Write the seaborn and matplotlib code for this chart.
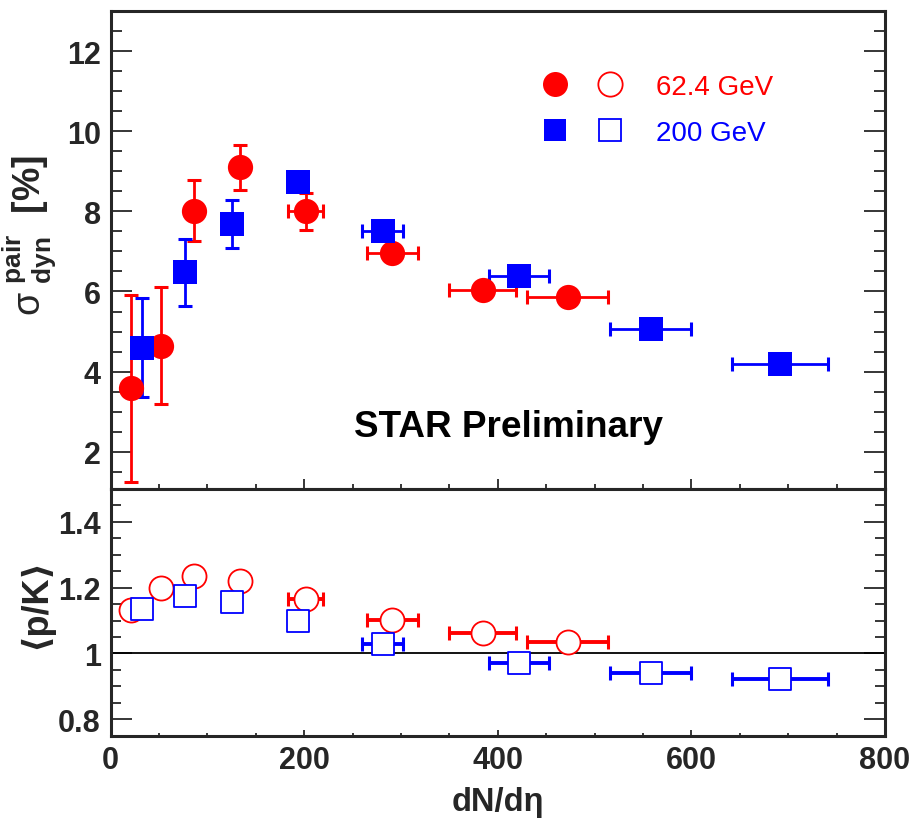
import numpy as np
import pandas as pd
import matplotlib
matplotlib.use("Agg")
import matplotlib.pyplot as plt
import seaborn as sns
from matplotlib.ticker import MultipleLocator, FuncFormatter
from matplotlib.legend_handler import HandlerTuple
from matplotlib.lines import Line2D

# ---------------- data ----------------
dndeta_62 = [20.5, 52, 86, 134, 201.5, 291, 384.5, 472]
dndeta_62_err = [0, 0, 0, 0, 18, 26, 34.5, 41.5]
sigma_62 = [3.58, 4.64, 8.02, 9.10, 8.00, 6.95, 6.03, 5.85]
sigma_62_err = [2.34, 1.46, 0.75, 0.56, 0.46, 0.2, 0.2, 0.2]
pk_62 = [1.131, 1.200, 1.236, 1.220, 1.167, 1.102, 1.061, 1.034]

dndeta_200 = [32.5, 77, 125, 194, 281, 421.5, 558, 691.5]
dndeta_200_err = [0, 0, 0, 0, 21, 31, 42, 50]
sigma_200 = [4.60, 6.48, 7.68, 8.73, 7.50, 6.39, 5.06, 4.18]
sigma_200_err = [1.23, 0.83, 0.60, 0.2, 0.2, 0.2, 0.2, 0.2]
pk_200 = [1.136, 1.175, 1.156, 1.099, 1.028, 0.972, 0.940, 0.921]

energies = ["62.4 GeV", "200 GeV"]
colors = {"62.4 GeV": "#ff0000", "200 GeV": "#0000ff"}

df62 = pd.DataFrame({"dNdeta": dndeta_62, "sigma": sigma_62, "pk": pk_62})
df200 = pd.DataFrame({"dNdeta": dndeta_200, "sigma": sigma_200, "pk": pk_200})

# ---------------- style ----------------
sns.set_theme(style="ticks")
plt.rcParams["font.family"] = ["Liberation Sans", "DejaVu Sans"]
plt.rcParams["font.weight"] = "bold"
plt.rcParams["axes.labelweight"] = "bold"
plt.rcParams["mathtext.fontset"] = "custom"
plt.rcParams["mathtext.rm"] = "Liberation Sans:regular"
plt.rcParams["mathtext.bf"] = "Liberation Sans:bold"
plt.rcParams["mathtext.it"] = "Liberation Sans:italic"
plt.rcParams["axes.linewidth"] = 2.2

fig = plt.figure(figsize=(9.17, 8.2), dpi=100)
ax1 = fig.add_axes([0.1207, 0.4024, 0.8444, 0.5830])
ax2 = fig.add_axes([0.1207, 0.1016, 0.8444, 0.3008])

# ---------------- top panel ----------------
ax1.errorbar(dndeta_62, sigma_62, xerr=dndeta_62_err, yerr=sigma_62_err, fmt="none",
             ecolor=colors["62.4 GeV"], elinewidth=2.0, capsize=5, capthick=2.2, zorder=2)
ax1.errorbar(dndeta_200, sigma_200, xerr=dndeta_200_err, yerr=sigma_200_err, fmt="none",
             ecolor=colors["200 GeV"], elinewidth=2.0, capsize=5, capthick=2.2, zorder=2)
sns.scatterplot(data=df62, x="dNdeta", y="sigma", marker="o", s=330,
                color=colors["62.4 GeV"], edgecolor=colors["62.4 GeV"], linewidth=0,
                ax=ax1, zorder=3, legend=False)
sns.scatterplot(data=df200, x="dNdeta", y="sigma", marker="s", s=300,
                color=colors["200 GeV"], edgecolor=colors["200 GeV"], linewidth=0,
                ax=ax1, zorder=3, legend=False)

ax1.set_xlim(0, 800)
ax1.set_ylim(1.07, 13)
ax1.xaxis.set_major_locator(MultipleLocator(200))
ax1.xaxis.set_minor_locator(MultipleLocator(50))
ax1.yaxis.set_major_locator(MultipleLocator(2))
ax1.yaxis.set_minor_locator(MultipleLocator(0.5))
ax1.tick_params(axis="y", which="both", direction="in", left=True, right=True,
                labelsize=22, pad=7, width=1.3)
ax1.tick_params(axis="y", which="major", length=15)
ax1.tick_params(axis="y", which="minor", length=8)
ax1.tick_params(axis="x", which="both", direction="inout", bottom=True, top=False,
                labelbottom=False, width=1.3)
ax1.tick_params(axis="x", which="major", length=14)
ax1.tick_params(axis="x", which="minor", length=7)
ax1.yaxis.set_major_formatter(FuncFormatter(lambda v, p: f"{v:g}"))
ax1.set_xlabel("")
ax1.set_ylabel(r"$\mathrm{σ}\;^{\mathbf{pair}}_{\mathbf{dyn}}$  [%]", fontsize=27,
               fontweight="bold")
ax1.yaxis.set_label_coords(-0.068, 0.533)

ax1.text(0.514, 0.111, "STAR Preliminary", transform=ax1.transAxes, ha="center",
         va="baseline", fontsize=26.6, fontweight="bold", color="black")

h_f62 = Line2D([], [], ls="none", marker="o", markersize=18, color=colors["62.4 GeV"], markeredgewidth=0)
h_o62 = Line2D([], [], ls="none", marker="o", markersize=17.5, markerfacecolor="white",
               markeredgecolor=colors["62.4 GeV"], markeredgewidth=1.3)
h_f200 = Line2D([], [], ls="none", marker="s", markersize=16.5, color=colors["200 GeV"], markeredgewidth=0)
h_o200 = Line2D([], [], ls="none", marker="s", markersize=16, markerfacecolor="white",
                markeredgecolor=colors["200 GeV"], markeredgewidth=1.3)
leg = ax1.legend(handles=[(h_f62, h_o62), (h_f200, h_o200)], labels=energies,
                 handler_map={tuple: HandlerTuple(ndivide=None, pad=0.9)},
                 loc="upper left", bbox_to_anchor=(0.5544, 0.868), frameon=False,
                 prop={"size": 20, "weight": "normal"}, handlelength=3.06,
                 handletextpad=1.1, labelspacing=0.72, borderpad=0, borderaxespad=0)
for txt, e in zip(leg.get_texts(), energies):
    txt.set_color(colors[e])

# ---------------- bottom panel ----------------
ax2.axhline(1.0, color="black", lw=1.3, zorder=1)
ax2.errorbar(dndeta_62, pk_62, xerr=dndeta_62_err, fmt="none",
             ecolor=colors["62.4 GeV"], elinewidth=2.8, capsize=5, capthick=2.2, zorder=2)
ax2.errorbar(dndeta_200, pk_200, xerr=dndeta_200_err, fmt="none",
             ecolor=colors["200 GeV"], elinewidth=2.8, capsize=5, capthick=2.2, zorder=2)
sns.scatterplot(data=df62, x="dNdeta", y="pk", marker="o", s=300,
                color=colors["62.4 GeV"], facecolor="white", edgecolor=colors["62.4 GeV"],
                linewidth=1.3, ax=ax2, zorder=3, legend=False)
sns.scatterplot(data=df200, x="dNdeta", y="pk", marker="s", s=260,
                color=colors["200 GeV"], facecolor="white", edgecolor=colors["200 GeV"],
                linewidth=1.3, ax=ax2, zorder=3, legend=False)

ax2.set_xlim(0, 800)
ax2.set_ylim(0.75, 1.5)
ax2.xaxis.set_major_locator(MultipleLocator(200))
ax2.xaxis.set_minor_locator(MultipleLocator(50))
ax2.yaxis.set_major_locator(MultipleLocator(0.2))
ax2.yaxis.set_minor_locator(MultipleLocator(0.05))
ax2.tick_params(axis="y", which="both", direction="in", left=True, right=True,
                labelsize=22, pad=7, width=1.3)
ax2.tick_params(axis="y", which="major", length=15)
ax2.tick_params(axis="y", which="minor", length=7)
ax2.tick_params(axis="x", which="both", direction="in", bottom=True, top=False,
                labelsize=22, pad=7, width=1.3)
ax2.tick_params(axis="x", which="major", length=4)
ax2.tick_params(axis="x", which="minor", length=2)
ax2.yaxis.set_major_formatter(FuncFormatter(lambda v, p: f"{v:g}"))
ax2.xaxis.set_major_formatter(FuncFormatter(lambda v, p: f"{v:g}"))
ax2.set_xlabel("dN/dη", fontsize=23.5, fontweight="bold")
ax2.xaxis.set_label_coords(0.5, -0.205)
ax2.set_ylabel("⟨p/K⟩", fontsize=26, fontweight="bold")
ax2.yaxis.set_label_coords(-0.0746, 0.542)

fig.savefig("out.png", dpi=100, facecolor="white")
